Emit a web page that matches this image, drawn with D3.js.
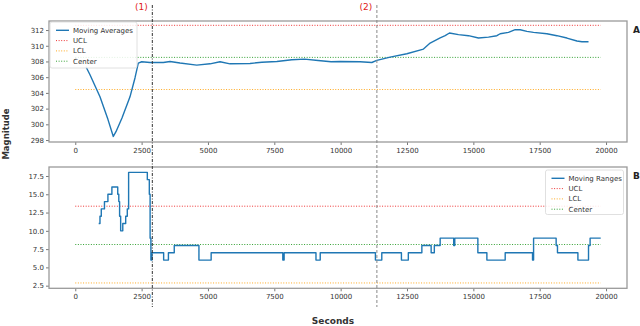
<!DOCTYPE html>
<html>
<head>
<meta charset="utf-8">
<script src="https://cdn.jsdelivr.net/npm/d3@7"></script>
<style>
  body { margin: 0; background: #fff; }
  svg { display: block; font-family: "DejaVu Sans", sans-serif; }
</style>
</head>
<body>
<div id="chart"></div>
<script>
// moving averages (seconds, magnitude)
const avgSeconds = [403, 554, 931, 1233, 1433, 1534, 1760, 2062, 2250, 2375, 2503, 2816, 3318, 3571, 3947,
  4577, 5078, 5455, 5832, 6586, 7031, 7596, 8161, 8640, 9150, 9640, 9980, 10730, 11174, 11363, 11864,
  12494, 13120, 13372, 13749, 13938, 14100, 14439, 14816, 15193, 15570, 15887, 16011, 16324, 16577,
  16765, 17018, 17267, 17771, 18149, 18526, 18903, 19091, 19340];
const avgValues = [307.33, 306.31, 303.5, 300.6, 298.46, 299.06, 300.8, 303.5, 305.9, 307.8, 307.96, 307.87,
  307.87, 308.0, 307.8, 307.54, 307.7, 307.96, 307.7, 307.75, 307.9, 308.0, 308.22, 308.3, 308.13, 307.96,
  308.0, 307.96, 307.87, 308.13, 308.56, 308.98, 309.58, 310.34, 311.0, 311.28, 311.62, 311.41, 311.28,
  310.98, 311.1, 311.28, 311.53, 311.7, 312.04, 312.04, 311.83, 311.7, 311.53, 311.28, 310.98, 310.6,
  310.51, 310.51];

// moving ranges (step changes)
const rangeSeconds = [882, 931, 980, 1100, 1230, 1380, 1600, 1640, 1670, 1710, 1790, 1900, 1960, 2010, 2715,
  2790, 2820, 2850, 2890, 3330, 3510, 3730, 4660, 5120, 7820, 7870, 9070, 9230, 11310, 11550, 12290,
  12550, 13060, 13410, 13530, 13750, 14260, 14300, 15170, 15510, 16200, 17230, 17270, 18120, 18170,
  18940, 19340, 19400, 19800];
const rangeValues = [11, 12, 13, 14, 15, 16, 15, 14, 12, 10, 11, 12, 13, 18, 17, 15, 9, 6, 7, 6, 7, 8, 6, 7,
  6, 7, 6, 7, 6, 7, 6, 7, 8, 7, 8, 9, 8, 9, 7, 6, 7, 6, 9, 8, 7, 6, 8, 9, 9];

const limitStart = 0;
const limitEnd = 19800;
const avgLimits = { ucl: 312.6, lcl: 304.43, center: 308.52 };
const rangeLimits = { ucl: 13.37, lcl: 2.87, center: 8.13 };

const events = [{ at: 2903, label: "(1)" }, { at: 11365, label: "(2)" }];
const xTicks = [0, 2500, 5000, 7500, 10000, 12500, 15000, 17500, 20000];
const avgTicks = [298, 300, 302, 304, 306, 308, 310, 312];
const rangeTicks = [2.5, 5.0, 7.5, 10.0, 12.5, 15.0, 17.5];

const W = 640, H = 326;
const left = 49, right = 627;
const panels = [
  { top: 21, bottom: 142, domain: [297.75, 313.15], ticks: avgTicks, fmt: d3.format("d"),
    xs: avgSeconds, ys: avgValues, limits: avgLimits, curve: d3.curveLinear,
    legendName: "Moving Averages", legend: { x: 50, y: 22, w: 87, h: 46 }, tag: "A" },
  { top: 167, bottom: 288.3, domain: [2.14, 18.73], ticks: rangeTicks, fmt: d3.format(".1f"),
    xs: rangeSeconds, ys: rangeValues, limits: rangeLimits, curve: d3.curveStepAfter,
    legendName: "Moving Ranges", legend: { x: 545.5, y: 170, w: 78, h: 44.5 }, tag: "B" }
];

const limitStyles = [
  { key: "ucl", name: "UCL", color: "#ee3333" },
  { key: "lcl", name: "LCL", color: "#ffaa22" },
  { key: "center", name: "Center", color: "#33a033" }
];

const svg = d3.select("#chart").append("svg").attr("width", W).attr("height", H);
const x = d3.scaleLinear().domain([-990, 20790]).range([left, right]);

panels.forEach((p) => {
  const y = d3.scaleLinear().domain(p.domain).range([p.bottom, p.top]);
  const g = svg.append("g");

  g.append("g")
    .attr("transform", `translate(0,${p.bottom})`)
    .call(d3.axisBottom(x).tickValues(xTicks).tickSize(3).tickPadding(3).tickFormat(d3.format("d")))
    .call((a) => a.select(".domain").remove());

  g.append("g")
    .attr("transform", `translate(${left},0)`)
    .call(d3.axisLeft(y).tickValues(p.ticks).tickSize(3).tickPadding(2).tickFormat(p.fmt))
    .call((a) => a.select(".domain").remove());

  g.selectAll(".tick text").attr("font-size", 7).attr("fill", "#333").attr("font-family", "DejaVu Sans");
  g.selectAll(".tick line").attr("stroke", "#555").attr("stroke-width", 0.8);

  limitStyles.forEach((s) => {
    g.append("line")
      .attr("x1", x(limitStart)).attr("x2", x(limitEnd))
      .attr("y1", y(p.limits[s.key])).attr("y2", y(p.limits[s.key]))
      .attr("stroke", s.color).attr("stroke-width", 1)
      .attr("stroke-dasharray", "1,1.6");
  });

  const pts = p.xs.map((d, i) => [d, p.ys[i]]);
  g.append("path")
    .datum(pts)
    .attr("d", d3.line().x((d) => x(d[0])).y((d) => y(d[1])).curve(p.curve))
    .attr("fill", "none")
    .attr("stroke", "#1f77b4")
    .attr("stroke-width", 1.4)
    .attr("stroke-linejoin", "round");

  g.append("rect")
    .attr("x", left).attr("y", p.top)
    .attr("width", right - left).attr("height", p.bottom - p.top)
    .attr("fill", "none").attr("stroke", "#9a9a9a").attr("stroke-width", 1.3);

  // legend
  const L = p.legend;
  const lg = g.append("g").attr("transform", `translate(${L.x},${L.y})`);
  lg.append("rect")
    .attr("width", L.w).attr("height", L.h).attr("rx", 2)
    .attr("fill", "#fff").attr("fill-opacity", 0.85)
    .attr("stroke", "#d8d8d8").attr("stroke-width", 0.8);
  const items = [{ name: p.legendName, color: "#1f77b4", solid: true }]
    .concat(limitStyles.map((s) => ({ name: s.name, color: s.color, solid: false })));
  items.forEach((it, i) => {
    const cy = 8.3 + i * 10.3;
    lg.append("line")
      .attr("x1", 6).attr("x2", 19).attr("y1", cy).attr("y2", cy)
      .attr("stroke", it.color).attr("stroke-width", it.solid ? 1.4 : 1)
      .attr("stroke-dasharray", it.solid ? null : "1,1.6");
    lg.append("text")
      .attr("x", 23).attr("y", cy).attr("dy", "0.35em")
      .attr("font-size", 7).attr("fill", "#333")
      .text(it.name);
  });

  svg.append("text")
    .attr("x", 633).attr("y", p.top + 12)
    .attr("font-size", 9).attr("font-weight", "bold").attr("fill", "#222")
    .text(p.tag);
});

events.forEach((e, i) => {
  svg.append("line")
    .attr("x1", x(e.at)).attr("x2", x(e.at))
    .attr("y1", 5).attr("y2", 307)
    .attr("stroke", i === 0 ? "#333" : "#888")
    .attr("stroke-width", 1)
    .attr("stroke-dasharray", i === 0 ? "3,1.5,1,1.5" : "3,2");
  svg.append("text")
    .attr("x", x(e.at) - 11).attr("y", 9.5)
    .attr("text-anchor", "middle")
    .attr("font-size", 9).attr("fill", "#e02020")
    .text(e.label);
});

svg.append("text")
  .attr("transform", "translate(9,134) rotate(-90)")
  .attr("text-anchor", "middle")
  .attr("font-size", 8.5).attr("font-weight", "bold").attr("fill", "#333")
  .text("Magnitude");

svg.append("text")
  .attr("x", 333).attr("y", 324)
  .attr("text-anchor", "middle")
  .attr("font-size", 9).attr("font-weight", "bold").attr("fill", "#333")
  .text("Seconds");
</script>
</body>
</html>
